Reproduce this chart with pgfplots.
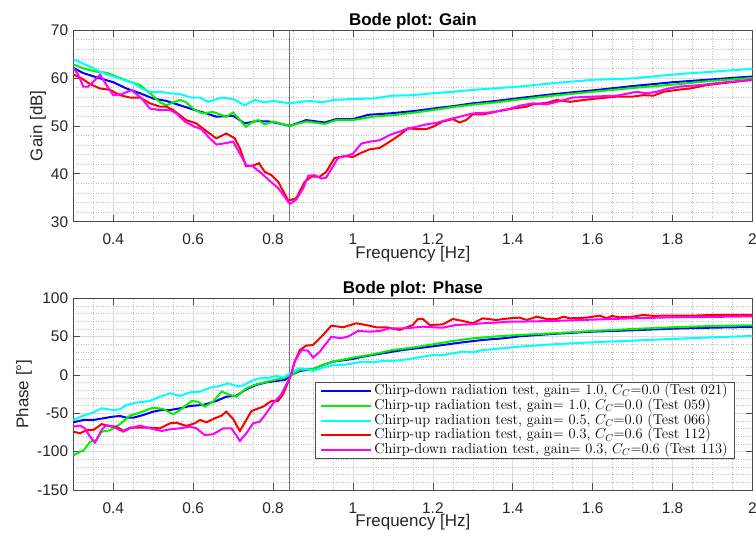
\documentclass[border=0pt]{standalone}
\usepackage{fontspec}
\setmainfont{Liberation Sans}
\usepackage{pgfplots}
\pgfplotsset{compat=1.18}
\definecolor{cBlue}{rgb}{0,0,1}
\definecolor{cGreen}{rgb}{0,0.95,0}
\definecolor{cCyan}{rgb}{0,1,1}
\definecolor{cRed}{rgb}{1,0,0}
\definecolor{cMag}{rgb}{1,0,1}
\pgfplotsset{
  bodeax/.style={
    scale only axis, width=679.2bp, height=191.7bp,
    xmin=0.3, xmax=2,
    xtick={0.4,0.6,0.8,1,1.2,1.4,1.6,1.8,2},
    minor xtick={0.35,0.45,0.5,0.55,0.65,0.7,0.75,0.85,0.9,0.95,1.05,1.1,1.15,1.25,1.3,1.35,1.45,1.5,1.55,1.65,1.7,1.75,1.85,1.9,1.95},
    grid=both,
    major grid style={black!14, line width=0.6bp},
    minor grid style={black!25, line width=0.5bp, dash pattern=on 1bp off 1.5bp},
    axis line style={black!70, line width=0.6bp},
    major tick length=6.8bp, minor tick length=0pt,
    tick style={black!70, line width=0.6bp},
    tick align=inside,
    ticklabel style={font=\fontsize{15.5}{18}\selectfont, text=black!85, inner sep=0pt},
    /pgf/number format/assume math mode=true,
    xticklabel style={anchor=base, yshift=-23.3bp},
    yticklabel style={anchor=east, xshift=-5bp},
    every axis title shift=0pt,
    title style={at={(axis description cs:0.5,1.026)}, anchor=base, inner sep=0pt, font=\bfseries\fontsize{17}{20}\selectfont},
    xlabel style={at={(axis description cs:0.5,-0.1925)}, anchor=base, inner sep=0pt, font=\fontsize{17}{20}\selectfont, text=black!85},
    ylabel style={anchor=base, inner sep=0pt, font=\fontsize{17}{20}\selectfont, text=black!85},
    every axis plot/.append style={line width=2bp},
    legend image code/.code={\draw[#1] (0bp,0bp) -- (50bp,0bp);},
  }
}
\begin{document}
\begin{tikzpicture}
\begin{axis}[bodeax, at={(73.3bp,321.3bp)}, anchor=south west,
  ymin=30, ymax=70, ytick={30,40,50,60,70},
  minor ytick={32,34,36,38,42,44,46,48,52,54,56,58,62,64,66,68},
  title={Bode plot: Gain}, xlabel={Frequency [Hz]}, ylabel={Gain [dB]},
  ylabel style={at={(axis description cs:-0.0456,0.5)}}]
\addplot[black!55, line width=0.8bp, forget plot] coordinates {(0.84,30) (0.84,70)};
% blue: Test 021
\addplot[cBlue] coordinates {(0.3,62.1)(0.325,61.0)(0.367,59.9)(0.4,59.1)(0.433,57.8)(0.467,56.8)(0.5,55.7)(0.533,55.2)(0.567,54.3)(0.6,53.4)(0.633,52.6)(0.658,51.9)(0.7,52.1)(0.729,50.5)(0.758,51.0)(0.792,50.9)(0.842,50.0)(0.883,51.2)(0.929,50.7)(0.958,51.4)(1.0,51.4)(1.038,52.3)(1.092,52.6)(1.154,53.1)(1.2,53.6)(1.25,54.1)(1.3,54.7)(1.358,55.2)(1.417,55.8)(1.5,56.6)(1.6,57.4)(1.7,58.3)(1.8,59.1)(1.9,59.7)(2.0,60.3)};
% green: Test 059
\addplot[cGreen] coordinates {(0.3,62.8)(0.325,62.0)(0.358,61.3)(0.383,61.1)(0.417,60.0)(0.442,59.2)(0.467,58.5)(0.492,56.8)(0.517,54.9)(0.533,54.3)(0.55,54.9)(0.567,55.4)(0.583,54.9)(0.604,53.3)(0.625,52.6)(0.65,52.9)(0.683,51.9)(0.7,52.8)(0.732,49.8)(0.75,50.9)(0.763,51.2)(0.779,50.3)(0.8,50.9)(0.842,50.0)(0.883,50.9)(0.929,50.4)(0.958,51.2)(1.0,51.2)(1.05,51.9)(1.108,52.3)(1.158,52.8)(1.2,53.3)(1.258,54.0)(1.308,54.5)(1.358,54.9)(1.417,55.5)(1.5,56.3)(1.6,57.1)(1.7,57.9)(1.8,58.6)(1.9,59.4)(2.0,60.0)};
% cyan: Test 066
\addplot[cCyan] coordinates {(0.3,63.9)(0.325,63.0)(0.35,62.0)(0.375,61.0)(0.4,60.3)(0.425,59.6)(0.45,58.9)(0.471,57.8)(0.492,57.1)(0.517,57.1)(0.542,56.8)(0.567,56.6)(0.596,55.9)(0.617,55.9)(0.638,55.0)(0.671,55.9)(0.7,55.6)(0.729,54.3)(0.754,55.4)(0.779,54.9)(0.8,55.2)(0.842,54.7)(0.867,55.0)(0.892,55.2)(0.925,54.9)(0.95,55.4)(1.0,55.6)(1.05,55.7)(1.1,56.3)(1.15,56.4)(1.2,56.8)(1.25,57.1)(1.3,57.5)(1.35,57.8)(1.417,58.2)(1.5,58.9)(1.6,59.6)(1.7,59.9)(1.8,60.7)(1.9,61.3)(2.0,61.9)};
% red: Test 112
\addplot[cRed] coordinates {(0.3,60.7)(0.321,59.9)(0.342,58.7)(0.367,57.8)(0.392,57.5)(0.417,56.4)(0.442,55.9)(0.467,55.9)(0.492,54.7)(0.517,54.0)(0.533,54.0)(0.55,53.3)(0.567,52.2)(0.583,51.2)(0.608,50.5)(0.633,48.9)(0.658,47.4)(0.683,48.4)(0.704,47.4)(0.717,45.3)(0.732,41.6)(0.75,41.7)(0.765,42.2)(0.779,40.4)(0.796,39.7)(0.813,38.3)(0.838,34.4)(0.858,34.9)(0.879,38.3)(0.896,39.4)(0.917,39.4)(0.933,40.4)(0.954,43.3)(0.979,43.7)(1.0,43.5)(1.021,44.4)(1.042,45.1)(1.067,45.4)(1.092,46.7)(1.117,48.1)(1.138,49.5)(1.158,49.3)(1.183,49.3)(1.2,49.8)(1.225,50.9)(1.25,51.4)(1.267,50.7)(1.283,51.2)(1.3,52.4)(1.325,52.4)(1.35,52.8)(1.375,53.3)(1.4,53.6)(1.435,54.0)(1.45,54.5)(1.485,54.8)(1.51,55.4)(1.543,55.0)(1.577,55.4)(1.61,55.7)(1.66,56.1)(1.7,56.1)(1.727,56.4)(1.752,56.3)(1.777,57.1)(1.81,57.5)(1.844,57.8)(1.885,58.5)(1.936,59.0)(2.0,59.6)};
% magenta: Test 113
\addplot[cMag] coordinates {(0.3,62.1)(0.312,60.7)(0.325,58.2)(0.337,58.2)(0.35,59.2)(0.367,60.7)(0.383,58.5)(0.4,56.4)(0.421,56.6)(0.446,57.5)(0.471,55.7)(0.492,53.6)(0.517,53.3)(0.542,53.3)(0.558,52.6)(0.579,50.9)(0.604,49.8)(0.621,49.3)(0.638,47.7)(0.658,46.1)(0.675,46.3)(0.7,46.7)(0.717,44.2)(0.733,41.8)(0.75,41.5)(0.771,40.1)(0.792,38.5)(0.813,37.0)(0.842,33.7)(0.858,34.6)(0.875,36.9)(0.888,39.6)(0.904,39.7)(0.921,39.0)(0.933,39.2)(0.9625,43.3)(0.983,43.7)(1.0,44.2)(1.021,46.3)(1.042,46.7)(1.067,47.0)(1.092,48.1)(1.117,48.8)(1.133,49.3)(1.158,49.8)(1.183,50.3)(1.208,50.6)(1.242,51.4)(1.267,51.9)(1.3,52.6)(1.342,52.8)(1.383,53.3)(1.417,54.2)(1.45,54.7)(1.485,54.5)(1.52,55.2)(1.55,55.9)(1.6,56.1)(1.66,56.3)(1.71,57.1)(1.735,56.8)(1.76,57.1)(1.785,57.7)(1.818,58.2)(1.869,58.5)(1.919,59.0)(2.0,59.6)};
\end{axis}

\begin{axis}[bodeax, at={(73.3bp,53bp)}, anchor=south west,
  ymin=-150, ymax=100, ytick={-150,-100,-50,0,50,100},
  minor ytick={-140,-130,-120,-110,-90,-80,-70,-60,-40,-30,-20,-10,10,20,30,40,60,70,80,90},
  title={Bode plot: Phase}, xlabel={Frequency [Hz]}, ylabel={Phase [°]},
  ylabel style={at={(axis description cs:-0.0663,0.5)}},
  legend cell align=left,
  legend style={at={(axis description cs:0.9742,0.5634)}, anchor=north east,
    draw=black!70, fill=white, line width=0.6bp,
    font=\fontsize{14.5}{17}\fontfamily{lmr}\selectfont,
    inner xsep=5bp, inner ysep=1.5bp, row sep=0bp,
    nodes={inner xsep=2bp, inner ysep=0bp, text height=11bp, text depth=3.7bp}}]
\addplot[black!55, line width=0.8bp, forget plot] coordinates {(0.84,-150) (0.84,100)};
\addplot[cBlue] coordinates {(0.3,-61.7)(0.325,-58.7)(0.35,-58.7)(0.375,-56.5)(0.4,-54.3)(0.417,-53.5)(0.433,-55.7)(0.45,-55.7)(0.475,-52.2)(0.5,-47.8)(0.521,-45.7)(0.542,-45.7)(0.567,-43.5)(0.592,-40.4)(0.625,-39.1)(0.658,-33.9)(0.683,-28.3)(0.708,-27)(0.733,-18.7)(0.758,-13)(0.783,-9.6)(0.808,-7.8)(0.829,-6.5)(0.845,0)(0.867,5.2)(0.9,7.8)(0.925,13)(0.95,17.4)(1.0,20.9)(1.025,23.9)(1.075,28.3)(1.125,32.6)(1.175,35.7)(1.225,39.1)(1.275,42.6)(1.325,45.7)(1.375,47.8)(1.417,50.4)(1.5,53.5)(1.6,56.5)(1.7,58.3)(1.8,60.4)(1.9,61.7)(2.0,62.6)};
\addlegendentry{Chirp-down radiation test, gain= 1.0, $C_C$=0.0 (Test 021)}
\addplot[cGreen] coordinates {(0.3,-105)(0.317,-100)(0.325,-99)(0.342,-87)(0.358,-85)(0.371,-74)(0.392,-72)(0.417,-64)(0.442,-53)(0.467,-49)(0.5,-42.6)(0.525,-44.3)(0.55,-51.3)(0.567,-45.7)(0.596,-33.9)(0.612,-34.8)(0.629,-41.3)(0.65,-34.8)(0.671,-21.7)(0.692,-26)(0.708,-28.3)(0.733,-17.4)(0.758,-12.2)(0.792,-7.8)(0.825,-4.3)(0.845,0)(0.867,6.5)(0.9,7.8)(0.925,13)(0.95,17.4)(1.0,22.6)(1.05,27)(1.1,32.6)(1.15,35.7)(1.2,40)(1.25,44.3)(1.3,47.8)(1.35,50)(1.417,52.2)(1.5,54.3)(1.6,57.4)(1.7,60)(1.8,62.2)(1.9,63.9)(2.0,64.8)};
\addlegendentry{Chirp-up radiation test, gain= 1.0, $C_C$=0.0 (Test 059)}
\addplot[cCyan] coordinates {(0.3,-58.7)(0.325,-53)(0.35,-48.7)(0.371,-43.5)(0.4,-45.7)(0.417,-44.8)(0.433,-39.1)(0.458,-36.1)(0.492,-33.9)(0.517,-28.3)(0.542,-23.9)(0.567,-27.4)(0.592,-22.6)(0.617,-21.7)(0.642,-16.5)(0.667,-14.3)(0.6875,-10.9)(0.708,-14.3)(0.725,-13.9)(0.746,-7.8)(0.767,-4.3)(0.792,-3.5)(0.808,-0.9)(0.825,-3.5)(0.846,3.5)(0.867,8.7)(0.883,7.8)(0.9,5.2)(0.925,9.6)(0.95,13)(0.975,13)(1.0,15.2)(1.025,17.4)(1.05,16.5)(1.075,18.3)(1.1,18.3)(1.125,19.6)(1.15,21.7)(1.175,23.9)(1.2,26)(1.225,26)(1.25,28.3)(1.275,30.4)(1.3,29.6)(1.325,32.6)(1.375,34.8)(1.417,37)(1.5,40)(1.6,42.6)(1.7,44.8)(1.8,47)(1.9,49.1)(2.0,50.9)};
\addlegendentry{Chirp-up radiation test, gain= 0.5, $C_C$=0.0 (Test 066)}
\addplot[cRed] coordinates {(0.3,-74)(0.317,-76)(0.333,-72)(0.35,-72)(0.371,-64)(0.387,-66.5)(0.408,-67.4)(0.425,-73)(0.442,-68.7)(0.467,-68.7)(0.492,-68.7)(0.517,-69.6)(0.542,-63)(0.558,-62.2)(0.583,-66.5)(0.604,-63)(0.617,-58.7)(0.633,-61.7)(0.654,-56.5)(0.671,-53)(0.683,-47.8)(0.7,-57.4)(0.717,-73)(0.746,-47)(0.775,-41.3)(0.796,-33.9)(0.8125,-33.9)(0.825,-25.2)(0.845,0)(0.854,17.4)(0.867,32.6)(0.883,38.3)(0.9,39.1)(0.921,50)(0.946,64.3)(0.975,62.2)(1.008,67.4)(1.033,65.2)(1.058,62.2)(1.083,62.2)(1.117,58.7)(1.15,65.2)(1.1625,73)(1.175,73)(1.192,65.2)(1.225,66)(1.25,73)(1.275,70.4)(1.3,67.4)(1.325,73.9)(1.358,71.7)(1.392,73.9)(1.417,74.8)(1.435,71.7)(1.46,76)(1.485,73)(1.51,73)(1.527,76)(1.543,73.9)(1.585,74.8)(1.618,77.4)(1.635,73.9)(1.648,77)(1.668,75.2)(1.7,76)(1.727,78.3)(1.752,77)(1.777,77.4)(1.8,77.4)(1.852,77.4)(1.902,78.3)(2.0,78.3)};
\addlegendentry{Chirp-up radiation test, gain= 0.3, $C_C$=0.6 (Test 112)}
\addplot[cMag] coordinates {(0.3,-67.4)(0.317,-66)(0.329,-69.6)(0.342,-80.4)(0.354,-88.3)(0.371,-71.7)(0.383,-65.2)(0.404,-68.7)(0.425,-73.9)(0.442,-69.6)(0.467,-66)(0.492,-69.6)(0.521,-73)(0.542,-70.9)(0.567,-69.6)(0.592,-67.4)(0.608,-69.6)(0.629,-78.3)(0.65,-77.4)(0.675,-69.6)(0.696,-69.6)(0.717,-86)(0.733,-76)(0.75,-63)(0.767,-60.9)(0.783,-50)(0.8,-37)(0.821,-25.2)(0.845,0)(0.854,17.4)(0.871,32.6)(0.8875,31.7)(0.9,22.6)(0.917,30.4)(0.946,50)(0.967,47.8)(0.9875,50)(1.0125,57.4)(1.042,56.5)(1.067,57.4)(1.092,60.9)(1.125,60.9)(1.15,61.7)(1.175,63)(1.2,62.2)(1.225,61.7)(1.258,65.2)(1.292,66)(1.325,67.4)(1.358,68.3)(1.392,69.6)(1.417,69.6)(1.5,70.4)(1.6,72.2)(1.7,73.9)(1.8,75.2)(1.9,75.7)(2.0,76.5)};
\addlegendentry{Chirp-down radiation test, gain= 0.3, $C_C$=0.6 (Test 113)}
\end{axis}
\pgfresetboundingbox
\useasboundingbox (0,0) rectangle (756bp,543bp);
\end{tikzpicture}
\end{document}
